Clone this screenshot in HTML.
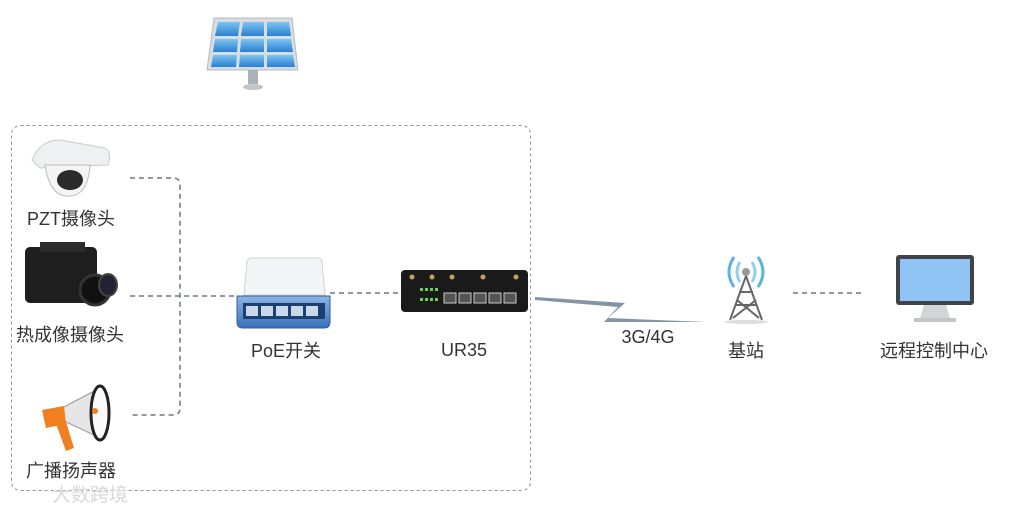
<!DOCTYPE html>
<html><head><meta charset="utf-8"><style>
body{margin:0;background:#fff;width:1024px;height:512px;overflow:hidden}
svg text{font-family:"Liberation Sans","Noto Sans CJK SC",sans-serif;fill:#333;font-size:18px}
</style></head><body>
<svg width="1024" height="512" viewBox="0 0 1024 512">
<defs>
<linearGradient id="sp" x1="0" y1="0" x2="0" y2="1"><stop offset="0" stop-color="#7cc4f2"/><stop offset="1" stop-color="#2a7fd0"/></linearGradient>
<linearGradient id="sw" x1="0" y1="0" x2="0" y2="1"><stop offset="0" stop-color="#8cb5e6"/><stop offset="1" stop-color="#3a70b8"/></linearGradient>
</defs>
<g>
<polygon points="214,18 292,18 298,70 207,70" fill="#d8dde2" stroke="#b5bcc4"/>
<g fill="url(#sp)">
<polygon points="218,22 240,22 238,36 215,36"/><polygon points="243,22 264,22 264,36 241,36"/><polygon points="267,22 289,22 291,36 267,36"/>
<polygon points="215,39 238,39 237,52 213,52"/><polygon points="241,39 264,39 264,52 240,52"/><polygon points="267,39 291,39 293,52 267,52"/>
<polygon points="213,55 237,55 236,67 211,67"/><polygon points="240,55 264,55 264,67 239,67"/><polygon points="267,55 293,55 295,67 267,67"/>
</g>
<rect x="248" y="70" width="10" height="14" fill="#aab1b8"/>
<ellipse cx="253" cy="87" rx="10" ry="3" fill="#c0c5ca"/>
</g>
<rect x="11.5" y="125.5" width="519" height="365" rx="9" fill="none" stroke="#8a939b" stroke-dasharray="3,3"/>
<path d="M130,178 H173 Q180,178 180,185 V408 Q180,415 173,415 H130" fill="none" stroke="#6b7680" stroke-width="1.5" stroke-dasharray="5,4"/>
<line x1="130" y1="296" x2="235" y2="296" stroke="#6b7680" stroke-width="1.5" stroke-dasharray="5,4"/>
<line x1="330" y1="293" x2="400" y2="293" stroke="#6b7680" stroke-width="1.5" stroke-dasharray="5,4"/>
<line x1="793" y1="293" x2="865" y2="293" stroke="#6b7680" stroke-width="1.5" stroke-dasharray="5,4"/>
<path d="M32,160 Q40,140 60,140 L105,148 Q112,152 108,165 L40,168 Z" fill="#eef0f2" stroke="#c8ccd0"/>
<path d="M45,165 Q50,198 70,196 Q88,195 90,165 Z" fill="#f4f4f4" stroke="#bbb"/>
<ellipse cx="70" cy="180" rx="13" ry="10" fill="#2a2a2a"/>
<rect x="25" y="247" width="72" height="56" rx="5" fill="#1e1e1e"/>
<rect x="40" y="242" width="45" height="10" fill="#2b2b2b"/>
<circle cx="95" cy="290" r="15" fill="#111" stroke="#333" stroke-width="3"/>
<ellipse cx="108" cy="285" rx="9" ry="11" fill="#223" stroke="#444" stroke-width="2"/>
<path d="M62,408 L100,388 L100,438 L62,420 Z" fill="#e6e6e6" stroke="#999"/>
<ellipse cx="100" cy="413" rx="9" ry="27" fill="#fafafa" stroke="#222" stroke-width="3"/>
<circle cx="95" cy="411" r="3" fill="#f07f20"/>
<path d="M42,410 L64,406 L66,424 L46,428 Z" fill="#f07f20"/>
<path d="M56,424 L66,422 L74,448 L66,451 Z" fill="#f07f20"/>
<path d="M247,262 Q248,258 252,258 L318,258 Q322,258 322,262 L325,295 L244,295 Z" fill="#f4f5f7" stroke="#cfd3d8"/>
<path d="M237,296 L330,296 L330,322 Q330,328 324,328 L243,328 Q237,328 237,322 Z" fill="url(#sw)" stroke="#2f5e9c"/>
<rect x="243" y="303" width="82" height="16" fill="#1c3f70"/>
<g fill="#c9d8ea"><rect x="246" y="306" width="12" height="10"/><rect x="261" y="306" width="12" height="10"/><rect x="276" y="306" width="12" height="10"/><rect x="291" y="306" width="12" height="10"/><rect x="306" y="306" width="12" height="10"/></g>
<rect x="401" y="270" width="127" height="42" rx="4" fill="#1a1a1a"/>
<g fill="#c7a35a"><circle cx="412" cy="277" r="2.5"/><circle cx="432" cy="277" r="2.5"/><circle cx="452" cy="277" r="2.5"/><circle cx="483" cy="277" r="2.5"/><circle cx="516" cy="277" r="2.5"/></g>
<g fill="#6fd04a"><rect x="420" y="288" width="3" height="3"/><rect x="425" y="288" width="3" height="3"/><rect x="430" y="288" width="3" height="3"/><rect x="435" y="288" width="3" height="3"/><rect x="420" y="298" width="3" height="3"/><rect x="425" y="298" width="3" height="3"/><rect x="430" y="298" width="3" height="3"/><rect x="435" y="298" width="3" height="3"/></g>
<g fill="#555" stroke="#ccc" stroke-width="1"><rect x="444" y="293" width="12" height="10"/><rect x="459" y="293" width="12" height="10"/><rect x="474" y="293" width="12" height="10"/><rect x="489" y="293" width="12" height="10"/><rect x="504" y="293" width="12" height="10"/></g>
<polygon points="535,297 625,303 608,318 706,322 604,322 618,307 535,300" fill="#8395a5"/>
<g fill="none" stroke-width="3">
<path d="M740,262 Q734,272 740,282" stroke="#8fd0ee"/><path d="M752,262 Q758,272 752,282" stroke="#8fd0ee"/>
<path d="M734,257 Q724,272 734,287" stroke="#5bb4e0"/><path d="M758,257 Q768,272 758,287" stroke="#5bb4e0"/>
</g>
<circle cx="746" cy="272" r="4" fill="#999"/>
<path d="M746,276 L730,320 M746,276 L762,320 M736,305 L756,305 M739,292 L753,292 M733,318 L756,300 M759,318 L737,300" stroke="#666" stroke-width="2" fill="none"/>
<ellipse cx="746" cy="322" rx="22" ry="2" fill="#ddd"/>
<rect x="896" y="255" width="78" height="50" rx="3" fill="#404448"/>
<rect x="900" y="259" width="70" height="42" fill="#8fc4f5"/>
<polygon points="924,305 946,305 950,318 920,318" fill="#d2d4d6"/>
<rect x="914" y="318" width="42" height="4" fill="#c2c4c6"/>
<text x="71" y="225" text-anchor="middle">PZT摄像头</text>
<text x="70" y="341" text-anchor="middle">热成像摄像头</text>
<text x="71" y="477" text-anchor="middle">广播扬声器</text>
<text x="286" y="357" text-anchor="middle">PoE开关</text>
<text x="464" y="356" text-anchor="middle">UR35</text>
<text x="648" y="343" text-anchor="middle">3G/4G</text>
<text x="746" y="357" text-anchor="middle">基站</text>
<text x="934" y="357" text-anchor="middle">远程控制中心</text>
<text x="52" y="501" style="fill:#d8d8d8;font-size:19px">大数跨境</text>
</svg>
</body></html>
